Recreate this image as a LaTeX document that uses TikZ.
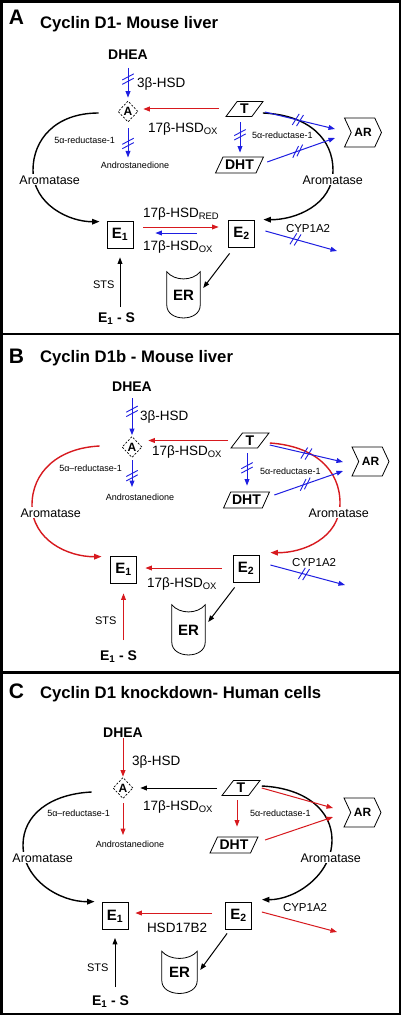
\documentclass[tikz,border=0pt]{standalone}
\usepackage{fontspec}
\setmainfont{Liberation Sans}
\usetikzlibrary{shapes.geometric,shapes.symbols,arrows.meta,calc}
\definecolor{bluec}{RGB}{30,30,225}
\definecolor{redc}{RGB}{215,25,30}
\newcommand\fsz[1]{\fontsize{#1}{#1}\selectfont}
\newcommand\erdraw[1]{\draw[line width=0.8pt] (#1.north west) .. controls ($(#1.north west)+(8,9.5)$) and ($(#1.north east)+(-8,9.5)$) .. (#1.north east) -- ($(#1.south east)+(0,-13)$) .. controls ($(#1.south east)+(0,4)$) and ($(#1.south west)+(0,4)$) .. ($(#1.south west)+(0,-13)$) -- cycle;}
% double slash: #1 centre coordinate, #2 arrow angle, #3 slash angle (y axis points down)
\newcommand\dsl[3]{%
  \draw[slashst] ($(#1)+(#2:2.2)+(#3:6.5)$) -- ($(#1)+(#2:2.2)+(#3+180:6.5)$);
  \draw[slashst] ($(#1)+(#2+180:2.2)+(#3:6.5)$) -- ($(#1)+(#2+180:2.2)+(#3+180:6.5)$);}
\tikzset{
  txt/.style={inner sep=0pt, outer sep=0pt},
  plet/.style={txt, font=\bfseries\fsz{21}},
  ptitle/.style={txt, font=\bfseries\fsz{16.7}, anchor=base west},
  mol/.style={txt, font=\bfseries\fsz{14}},
  enz/.style={txt, font=\fsz{13.5}, anchor=base west},
  small9/.style={txt, font=\fsz{9}},
  arom/.style={txt, font=\fsz{12.5}, anchor=base west, fill=white, inner xsep=0.5pt, inner ysep=1pt},
  cyp/.style={txt, font=\fsz{11.5}, anchor=base west},
  sts/.style={txt, font=\fsz{11}, anchor=base west},
  ebox/.style={draw, line width=0.8pt, minimum width=26pt, minimum height=27pt, inner sep=0pt, font=\bfseries\fsz{15}},
  andro/.style={draw, diamond, dash pattern=on 2pt off 1.6pt, line width=0.7pt, minimum width=20pt, minimum height=21pt, inner sep=0pt, font=\bfseries\fsz{12}},
  para/.style={draw, line width=0.8pt, trapezium, trapezium left angle=56, trapezium right angle=124, trapezium stretches=true, minimum height=15pt, inner sep=0pt, font=\bfseries\fsz{14}},
  rec/.style={draw, line width=0.8pt, signal, signal from=west, signal to=east, signal pointer angle=130, minimum width=37pt, minimum height=29pt, inner sep=0pt, font=\bfseries\fsz{12}},
  erb/.style={inner sep=0pt, minimum width=33pt, font=\bfseries\fsz{15}},
  arr/.style={line width=1pt, -{Triangle[length=6.5pt,width=4.8pt]}},
  aroarc/.style={line width=1.4pt, -{Triangle[length=7.5pt,width=5.5pt]}},
  panel/.style={line width=2.6pt},
  slashst/.style={line width=0.9pt, bluec, line cap=butt}
}
\begin{document}
\begin{tikzpicture}[x=1pt,y=-1pt]
\useasboundingbox (0,0) rectangle (402,1022);
\fill[white] (0,0) rectangle (402,1022);
% frames
\draw[panel] (1.8,1.5) rectangle (399.8,334);
\draw[panel] (1.8,334) rectangle (399.8,672.5);
\draw[panel] (1.8,672.5) rectangle (399.8,1014);

%================ PANEL A =================
\node[plet, anchor=base] (letA) at (16.5,25) {A};
\node[ptitle] (titA) at (40,29) {Cyclin D1- Mouse liver};
\node[mol, anchor=base] (dheaA) at (128,60) {DHEA};
\node[andro] (adA) at (128,111.5) {A};
\node[para, minimum width=37pt] (tA) at (244.5,109) {T};
\node[para, minimum width=48pt, minimum height=16pt] (dhtA) at (239.5,165) {DHT};
\node[rec] (arA) at (363,132.5) {AR};
\node[ebox] (e1A) at (120,234.5) {E\textsubscript{1}};
\node[ebox] (e2A) at (241.5,233.5) {E\textsubscript{2}};
\node[erb, minimum height=46pt] (erA) at (183.5,295) {ER};
\erdraw{erA}
\node[mol, anchor=base west] (esA) at (98,322) {E\textsubscript{1} - S};
\node[small9, anchor=base] (anA) at (135,168) {Androstanedione};
\coordinate (cypA) at (337,251);
\coordinate (tdA) at ([xshift=-4.5pt]tA.south);
% arcs
\draw[aroarc] ($(adA.west)+(-19,1.5)$) .. controls (55,113) and (33,140) .. (33,170) .. controls (33,205) and (70,222) .. ($(e1A.north west)+(-7,1)$);
\draw[aroarc] ($(tA.east)+(5,4)$) .. controls (310,115) and (333,140) .. (333,170) .. controls (333,205) and (295,220) .. ($(e2A.north east)+(8.5,0)$);
% labels
\node[enz] (l3A) at (137,88) {3β-HSD};
\node[enz] (loxA) at (148,132) {17β-HSD\textsubscript{OX}};
\node[small9, anchor=base east] (r1A) at (115,143) {5α-reductase-1};
\node[small9, anchor=base west] (r2A) at (252,139) {5α-reductase-1};
\node[arom] (am1A) at (19,184) {Aromatase};
\node[arom] (am2A) at (302,184) {Aromatase};
\node[enz] (redA) at (143,217) {17β-HSD\textsubscript{RED}};
\node[enz] (ox2A) at (143,250) {17β-HSD\textsubscript{OX}};
\node[cyp] (cyplA) at (286,232) {CYP1A2};
\node[sts] (stsA) at (93,288) {STS};
% connectors
\draw[arr, bluec, shorten <=8pt, shorten >=3pt] (dheaA.south) -- coordinate[pos=0.47] (s1A) (adA.north);
\draw[arr, redc, shorten <=12pt, shorten >=5pt] (tA.west) -- (adA.east |- tA.west);
\draw[arr, bluec, shorten <=6pt, shorten >=4pt] (adA.south) -- coordinate[pos=0.54] (s2A) (adA.south |- anA.north);
\draw[arr, bluec, shorten <=5.5pt, shorten >=4pt] (tdA) -- coordinate[pos=0.45] (s3A) (tdA |- dhtA.north);
\draw[arr, bluec] ($(tA.east)+(7,3)$) -- coordinate[pos=0.47] (s4A) ($(arA.center)+(-28,-3.5)$);
\draw[arr, bluec] ($(dhtA.east)+(7,-3)$) -- coordinate[pos=0.45] (s5A) ($(arA.center)+(-28,5.5)$);
\draw[arr, redc] ($(e1A.east)+(10,-7.5)$) -- ($(e2A.west)+(-9.5,-6.5)$);
\draw[arr, bluec] ($(e2A.west)+(-31.5,-0.5)$) -- ($(e1A.east)+(22,-1.5)$);
\draw[arr, bluec] ($(e2A.east)+(10.5,-2.5)$) -- coordinate[pos=0.42] (s6A) (cypA);
\draw[arr] ($(e2A.south west)+(1.5,6)$) -- ($(erA.east)+(3,-7)$);
\draw[arr, shorten <=5pt, shorten >=9pt] (e1A.south |- esA.north) -- (e1A.south);
\dsl{s1A}{90}{-28}
\dsl{s2A}{90}{-28}
\dsl{s3A}{90}{-28}
\dsl{s4A}{14}{-58}
\dsl{s5A}{-19}{-64}
\dsl{s6A}{15}{-58}

%================ PANEL B =================
\node[plet, anchor=base] (letB) at (16.5,363) {B};
\node[ptitle] (titB) at (40,362) {Cyclin D1b - Mouse liver};
\node[mol, anchor=base] (dheaB) at (132,391) {DHEA};
\node[andro] (adB) at (132,447) {A};
\node[para, minimum width=38pt] (tB) at (250,440.5) {T};
\node[para, minimum width=46pt, minimum height=16pt] (dhtB) at (246.5,500) {DHT};
\node[rec] (arB) at (370.5,461.5) {AR};
\node[ebox] (e1B) at (123.5,569.5) {E\textsubscript{1}};
\node[ebox] (e2B) at (246,568.5) {E\textsubscript{2}};
\node[erb, minimum height=50pt] (erB) at (188.5,630) {ER};
\erdraw{erB}
\node[mol, anchor=base west] (esB) at (100,660) {E\textsubscript{1} - S};
\node[small9, anchor=base] (anB) at (140,500) {Androstanedione};
\coordinate (cypB) at (345,585);
\coordinate (tdB) at ([xshift=-3pt]tB.south);
% arcs
\draw[aroarc, redc] ($(adB.west)+(-22,-1)$) .. controls (58,448) and (32,472) .. (32,505) .. controls (32,540) and (68,557) .. ($(e1B.north west)+(-8.5,1)$);
\draw[aroarc, redc] ($(tB.east)+(6,2.5)$) .. controls (315,446) and (340,470) .. (340,503) .. controls (340,538) and (303,553) .. ($(e2B.north east)+(11,-2)$);
% labels
\node[enz] (l3B) at (140,420) {3β-HSD};
\node[enz] (loxB) at (152,455) {17β-HSD\textsubscript{OX}};
\node[small9, anchor=base east] (r1B) at (122,471) {5α–reductase-1};
\node[small9, anchor=base west] (r2B) at (260,474) {5α-reductase-1};
\node[arom] (am1B) at (20,517) {Aromatase};
\node[arom] (am2B) at (308,517) {Aromatase};
\node[enz] (ox2B) at (147,587) {17β-HSD\textsubscript{OX}};
\node[cyp] (cyplB) at (292,566) {CYP1A2};
\node[sts] (stsB) at (95,624) {STS};
% connectors
\draw[arr, bluec, shorten <=7pt, shorten >=1pt] (dheaB.south) -- coordinate[pos=0.45] (s1B) (adB.north);
\draw[arr, redc, shorten <=8pt, shorten >=6pt] (tB.west) -- (adB.east |- tB.west);
\draw[arr, bluec, shorten <=2.5pt, shorten >=6.4pt] (adB.south) -- coordinate[pos=0.5] (s2B) (adB.south |- anB.north);
\draw[arr, bluec, shorten <=5pt, shorten >=6pt] (tdB) -- coordinate[pos=0.45] (s3B) (tdB |- dhtB.north);
\draw[arr, bluec] ($(tB.east)+(6,4.5)$) -- coordinate[pos=0.5] (s4B) ($(arB.center)+(-27.5,0.5)$);
\draw[arr, bluec] ($(dhtB.east)+(8,-5)$) -- coordinate[pos=0.45] (s5B) ($(arB.center)+(-27.5,9.5)$);
\draw[arr, redc] ($(e2B.west)+(-11,-0.5)$) -- ($(e1B.east)+(8.5,-1.5)$);
\draw[arr, bluec] ($(e2B.east)+(11,-3.5)$) -- coordinate[pos=0.45] (s6B) (cypB);
\draw[arr] ($(e2B.south west)+(2,5)$) -- ($(erB.east)+(3,-8)$);
\draw[arr, redc, shorten <=10pt, shorten >=10pt] (e1B.south |- esB.north) -- (e1B.south);
\dsl{s1B}{90}{-28}
\dsl{s2B}{90}{-28}
\dsl{s3B}{90}{-28}
\dsl{s4B}{13}{-58}
\dsl{s5B}{-19}{-64}
\dsl{s6B}{15}{-58}

%================ PANEL C =================
\node[plet, anchor=base] (letC) at (16.5,698) {C};
\node[ptitle] (titC) at (40,698) {Cyclin D1 knockdown- Human cells};
\node[mol, anchor=base] (dheaC) at (123,737) {DHEA};
\node[andro] (adC) at (123,788) {A};
\node[para, minimum width=38pt] (tC) at (241,788) {T};
\node[para, minimum width=48pt, minimum height=16pt] (dhtC) at (234,845) {DHT};
\node[rec] (arC) at (362.5,812.5) {AR};
\node[ebox] (e1C) at (115,916) {E\textsubscript{1}};
\node[ebox] (e2C) at (238.5,915.5) {E\textsubscript{2}};
\node[erb, minimum height=42pt, minimum width=35pt] (erC) at (179.5,972.5) {ER};
\erdraw{erC}
\node[mol, anchor=base west] (esC) at (92,1005) {E\textsubscript{1} - S};
\node[small9, anchor=base] (anC) at (130,847) {Androstanedione};
\coordinate (cypC) at (337,932);
\coordinate (tdC) at ([xshift=-4pt]tC.south);
% arcs
\draw[aroarc] ($(adC.west)+(-21,4)$) .. controls (50,794) and (23,815) .. (23,845) .. controls (23,880) and (60,902) .. ($(e1C.north west)+(-7,-0.5)$);
\draw[aroarc] ($(tC.east)+(7,-2)$) .. controls (305,788) and (332,810) .. (332,840) .. controls (332,875) and (295,900) .. ($(e2C.north east)+(10,-2)$);
% labels
\node[enz] (l3C) at (132,765) {3β-HSD};
\node[enz] (loxC) at (143,810) {17β-HSD\textsubscript{OX}};
\node[small9, anchor=base east] (r1C) at (110,816) {5α–reductase-1};
\node[small9, anchor=base west] (r2C) at (250,816) {5α-reductase-1};
\node[arom] (am1C) at (12,862) {Aromatase};
\node[arom] (am2C) at (300,862) {Aromatase};
\node[enz] (hsdC) at (147,932) {HSD17B2};
\node[cyp] (cyplC) at (283,911) {CYP1A2};
\node[sts] (stsC) at (87,971) {STS};
% connectors
\draw[arr, redc, shorten <=1pt, shorten >=0.5pt] (dheaC.south) -- (adC.north);
\draw[arr, shorten <=10pt, shorten >=7pt] (tC.west) -- (adC.east |- tC.west);
\draw[arr, redc, shorten <=4.5pt, shorten >=5.4pt] (adC.south) -- (adC.south |- anC.north);
\draw[arr, redc, shorten <=4.5pt, shorten >=10pt] (tdC) -- (tdC |- dhtC.north);
\draw[arr, redc] ($(tC.east)+(7,0)$) -- ($(arC.center)+(-29.5,-4.5)$);
\draw[arr, redc] ($(dhtC.east)+(10.4,-5)$) -- ($(arC.center)+(-29.5,4.5)$);
\draw[arr, redc] ($(e2C.west)+(-13,-2.5)$) -- ($(e1C.east)+(7,-3)$);
\draw[arr, redc] ($(e2C.east)+(10,-3.5)$) -- (cypC);
\draw[arr] ($(e2C.south west)+(2,4)$) -- ($(erC.east)+(3,-2.5)$);
\draw[arr, shorten <=8pt, shorten >=8pt] (e1C.south |- esC.north) -- (e1C.south);
\end{tikzpicture}
\end{document}
